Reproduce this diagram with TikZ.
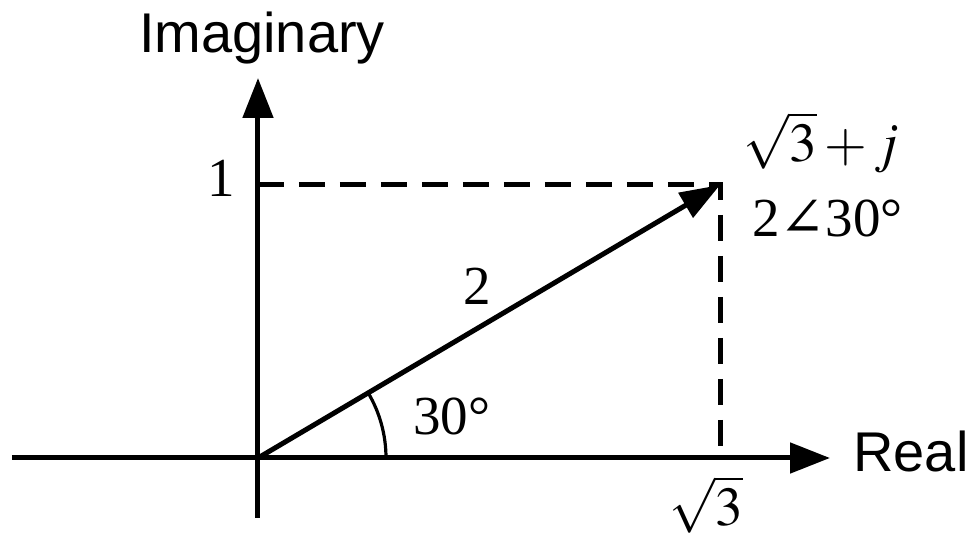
\documentclass[tikz,border=0pt]{standalone}
\usepackage{mathptmx}
\usepackage{fontspec}
\setmainfont{Liberation Serif}
\newfontfamily\axisfont{Liberation Sans}
\newfontfamily\anglefont{DejaVu Serif}
\usetikzlibrary{arrows.meta,calc}
\definecolor{PhasorInk}{HTML}{000000}
\tikzset{
  axisline/.style={PhasorInk,line width=2.5pt,
    -{Triangle[length=20pt,width=15pt]}},
  phasorline/.style={PhasorInk,line width=2.5pt,
    -{Triangle[length=20pt,width=14pt]}},
  guideline/.style={PhasorInk,line width=2.5pt,
    dash pattern=on 13pt off 7.5pt},
  anglearc/.style={PhasorInk,line width=1.6pt},
  axislabel/.style={inner sep=0pt,text=PhasorInk,
    font=\axisfont\fontsize{28}{30}\selectfont},
  valuelabel/.style={inner sep=0pt,text=PhasorInk,
    font=\fontsize{27.5}{30}\selectfont}
}

\begin{document}
\begin{tikzpicture}[x=0.5pt,y=0.5pt]
        \useasboundingbox (-258,-78) rectangle (713,458);

        \coordinate (origin) at (0,0);
        \coordinate (realstart) at (-246,0);
        \coordinate (realend) at (572,0);
        \coordinate (imagstart) at (0,-60);
        \coordinate (imagend) at (0,380);
        \coordinate (phasor) at (462,273);
        \coordinate (imagone) at (0,273);
        \coordinate (realroot) at (462,0);

        % axes
        \draw[axisline] (realstart) -- (realend);
        \draw[axisline] (imagstart) -- (imagend);

        % projections of the phasor
        \draw[guideline] (imagone) -- (phasor) -- (realroot);

        % phasor and its angle
        \draw[phasorline] (origin) -- (phasor);
        \draw[anglearc] (origin) ++(128,0)
          arc[start angle=0,end angle=30.58,radius=128];

        \node[axislabel,anchor=base] (imaglabel) at (4,405) {Imaginary};
        \node[axislabel,anchor=base west] (reallabel) at (595,-14) {Real};
        \node[valuelabel,anchor=base east] (onelabel) at (-23,261) {1};
        \node[valuelabel,anchor=base] (rootlabel) at (448,-68) {$\sqrt{3}$};
        \node[valuelabel,anchor=base west] (anglelabel) at (155,23) {30°};
        \node[valuelabel,anchor=base west] (magnitude) at (205,153) {2};
        \node[valuelabel,anchor=base west] (rectform) at (485,296)
          {$\sqrt{3}+j$};
        \node[valuelabel,anchor=base west] (polarform) at (494,221)
          {2{\anglefont ∠}30°};
      \end{tikzpicture}
\end{document}
